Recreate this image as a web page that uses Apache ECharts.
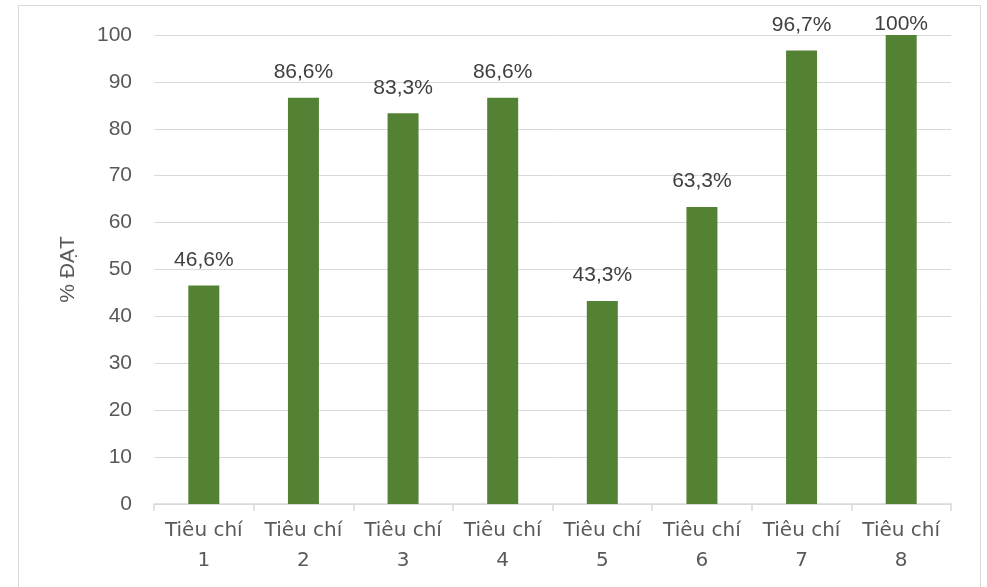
<!DOCTYPE html>
<html>
<head>
<meta charset="utf-8">
<script src="https://cdn.jsdelivr.net/npm/echarts@6/dist/echarts.min.js"></script>
<style>
  html, body { margin: 0; padding: 0; background: #fff; }
  #chart { width: 987px; height: 587px; }
</style>
</head>
<body>
<div id="chart"></div>
<script>
// Criteria and percentage achieved for each
var categories = ['Tiêu chí\n1', 'Tiêu chí\n2', 'Tiêu chí\n3', 'Tiêu chí\n4',
                  'Tiêu chí\n5', 'Tiêu chí\n6', 'Tiêu chí\n7', 'Tiêu chí\n8'];
var values = [46.6, 86.6, 83.3, 86.6, 43.3, 63.3, 96.7, 100];
var yTicks = [0, 10, 20, 30, 40, 50, 60, 70, 80, 90, 100];

var FONT = '"Liberation Sans", Arial, sans-serif';
var CAT_FONT = '"DejaVu Sans", "Liberation Sans", sans-serif';

function fmt(v) {
  return String(v).replace('.', ',') + '%';
}

var chart = echarts.init(document.getElementById('chart'), null, { renderer: 'canvas' });

chart.setOption({
  animation: false,
  backgroundColor: '#ffffff',
  graphic: [{
    type: 'rect',
    shape: { x: 18.5, y: 5.5, width: 962, height: 600 },
    style: { fill: 'none', stroke: '#d9d9d9', lineWidth: 1 },
    silent: true
  }],
  grid: { left: 154, right: 36, top: 35, bottom: 83, containLabel: false },
  xAxis: {
    type: 'category',
    data: categories,
    axisLine: { show: true, lineStyle: { color: '#d9d9d9', width: 1.5 } },
    axisTick: { show: true, alignWithLabel: false, length: 7, lineStyle: { color: '#d9d9d9', width: 1.5 } },
    axisLabel: {
      color: '#595959', fontFamily: CAT_FONT, fontSize: 20, lineHeight: 30, margin: 12,
      interval: 0
    }
  },
  yAxis: {
    type: 'value',
    min: yTicks[0],
    max: yTicks[yTicks.length - 1],
    interval: 10,
    name: '% ĐẠT',
    nameLocation: 'middle',
    nameGap: 75,
    nameRotate: 90,
    nameTextStyle: { color: '#595959', fontFamily: FONT, fontSize: 21 },
    axisLine: { show: false },
    axisTick: { show: false },
    axisLabel: { color: '#595959', fontFamily: FONT, fontSize: 21, margin: 22 },
    splitLine: { lineStyle: { color: '#d9d9d9', width: 1 } }
  },
  series: [{
    type: 'bar',
    data: values.map(function (v) {
      var item = { value: v };
      if (v >= 100) item.label = { distance: 0 };
      return item;
    }),
    barWidth: 31,
    itemStyle: { color: '#548235' },
    label: {
      show: true,
      position: 'top',
      distance: 15,
      color: '#404040',
      fontFamily: FONT,
      fontSize: 21,
      formatter: function (p) { return fmt(p.value); }
    }
  }]
});
</script>
</body>
</html>
